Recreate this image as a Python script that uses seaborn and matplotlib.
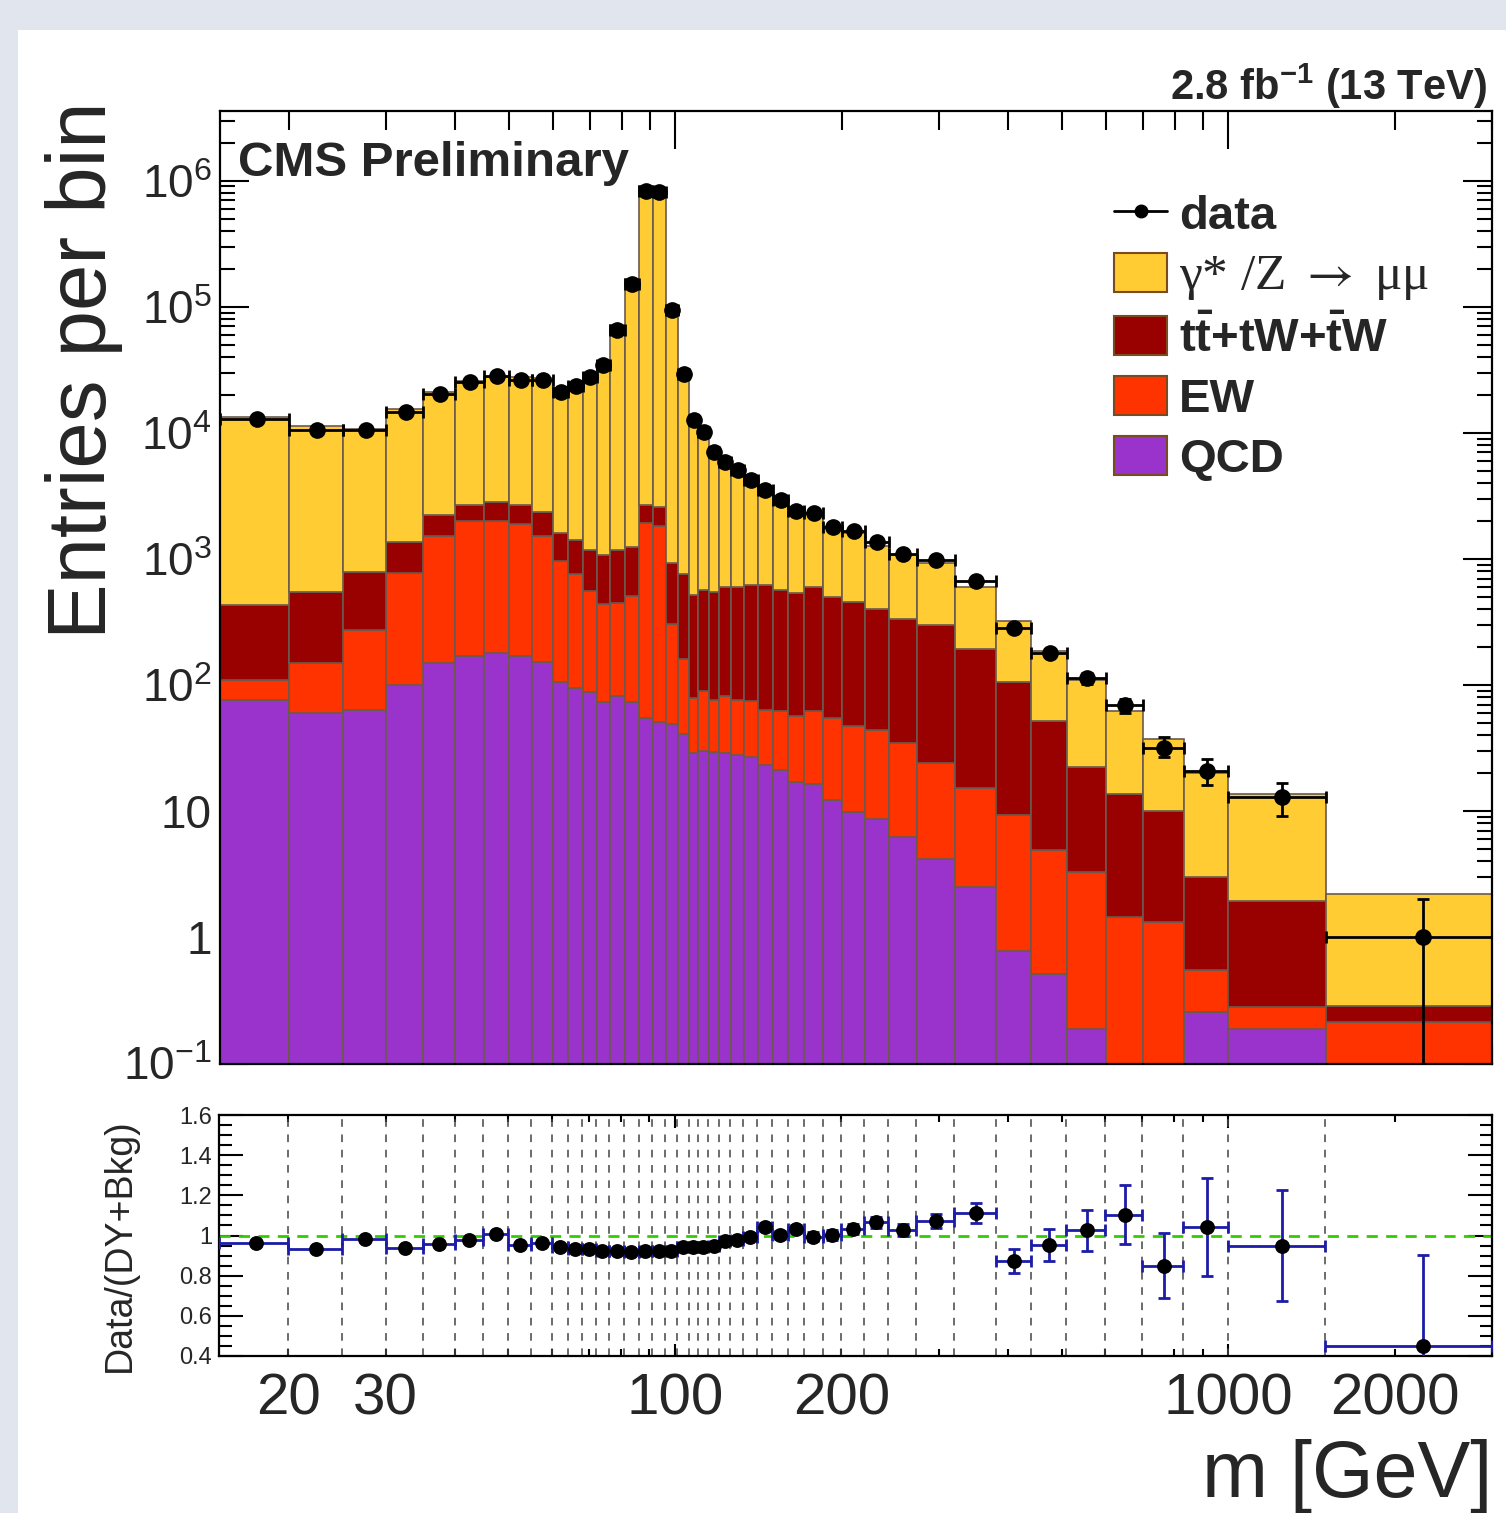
import numpy as np
import pandas as pd
import matplotlib
matplotlib.use("Agg")
import matplotlib.pyplot as plt
import seaborn as sns
from matplotlib.patches import Patch, Rectangle
from matplotlib.lines import Line2D
from matplotlib.ticker import FixedLocator, FixedFormatter, NullFormatter, MultipleLocator

# ---------------- data ----------------
edges = [15, 20, 25, 30, 35, 40, 45, 50, 55, 60, 64, 68, 72, 76, 81, 86, 91, 96, 101, 106,
         110, 115, 120, 126, 133, 141, 150, 160, 171, 185, 200, 220, 243, 273, 320, 380,
         440, 510, 600, 700, 830, 1000, 1500, 3000]

dy = [13000, 10700, 9910, 14200, 18800, 23100, 25000, 25000, 24700, 20700, 23600, 28500,
      36000, 70000, 165000, 902000, 874000, 102000, 30400, 12800, 10200, 6880, 5420, 4560,
      3650, 2780, 2380, 1790, 1730, 1290, 1150, 874, 742, 622, 410, 218, 136, 87.4, 49.0,
      27.5, 17.2, 11.7, 1.94]
ttbar = [323, 398, 512, 589, 712, 707, 838, 785, 837, 651, 651, 630, 640, 742, 727, 771, 763,
         630, 594, 443, 480, 472, 515, 522, 551, 562, 508, 482, 536, 443, 409, 355, 297, 276,
         177, 97.4, 46.7, 19.3, 12.2, 8.73, 2.48, 1.68, 0.07]
ew = [32.7, 89.5, 208, 672, 1366, 1815, 1805, 1737, 1364, 866, 671, 470, 367, 365, 437, 1867,
      1768, 259, 122, 49.9, 60.3, 46.6, 53.7, 48.1, 48.1, 40.1, 41.1, 40.4, 45.8, 42.9, 37.6,
      35.1, 28.8, 20.0, 12.8, 8.63, 4.44, 3.11, 1.44, 1.33, 0.295, 0.093, 0.215]
qcd = [76.2, 60.2, 63.5, 99.8, 150, 171, 181, 171, 152, 105, 95.2, 88.5, 73.7, 82.7, 73.7,
       55.2, 50.8, 49.2, 40.7, 29.0, 30.0, 29.6, 29.0, 28.1, 27.1, 23.4, 21.1, 17.0, 16.4,
       12.3, 9.86, 8.68, 6.27, 4.18, 2.52, 0.775, 0.509, 0.188, 0, 0, 0.257, 0.188, 0]

data = [12960, 10470, 10500, 14610, 20180, 25270, 28040, 26410, 26060, 21050, 23360, 27690,
        34260, 65720, 152200, 835000, 809300, 94680, 29450, 12560, 10150, 7045, 5870, 5046,
        4258, 3548, 2956, 2401, 2315, 1793, 1658, 1356, 1104, 989, 669, 284, 179, 113, 69,
        32, 21, 13, 1]
data_err_lo = [114, 102, 102, 121, 142, 159, 167, 163, 161, 145, 153, 166, 185, 256, 390, 914,
               900, 308, 172, 112, 101, 84, 77, 71, 65, 60, 54, 49, 48, 42, 41, 37, 33, 31, 26,
               17, 13, 11, 8.3, 5.3, 4.8, 3.8, 0.999]
data_err_hi = [114, 102, 102, 121, 142, 159, 167, 163, 161, 145, 153, 166, 185, 256, 390, 914,
               900, 308, 172, 112, 101, 84, 77, 71, 65, 60, 54, 49, 48, 42, 41, 37, 33, 31, 26,
               17, 13, 11, 8.3, 6.8, 4.9, 3.8, 1.0]

ratio = [0.962, 0.932, 0.982, 0.940, 0.958, 0.978, 1.008, 0.953, 0.962, 0.945, 0.932, 0.932,
         0.923, 0.923, 0.917, 0.923, 0.923, 0.923, 0.945, 0.945, 0.945, 0.948, 0.975, 0.978,
         0.995, 1.042, 1.003, 1.032, 0.995, 1.003, 1.032, 1.065, 1.028, 1.073, 1.112, 0.875,
         0.953, 1.025, 1.103, 0.850, 1.042, 0.950, 0.449]
ratio_err = [0.008, 0.009, 0.009, 0.008, 0.007, 0.006, 0.006, 0.006, 0.006, 0.007, 0.006, 0.006,
             0.005, 0.004, 0.002, 0.001, 0.001, 0.003, 0.005, 0.008, 0.009, 0.011, 0.013, 0.014,
             0.015, 0.018, 0.018, 0.021, 0.021, 0.024, 0.025, 0.029, 0.031, 0.034, 0.052, 0.060,
             0.079, 0.104, 0.146, 0.163, 0.244, 0.277, 0.455]

proc_names = ["DY", "tt", "EW", "QCD"]
proc_labels = ["\u03b3* /Z $\\rightarrow$ \u03bc\u03bc",
               r"$\mathbf{t\bar{t}}$+tW+$\mathbf{\bar{t}}$W", "EW", "QCD"]
colors = {"DY": "#ffcc33", "tt": "#990000", "EW": "#ff3300", "QCD": "#9933cc"}

# ---------------- style ----------------
sns.set_theme(style="ticks")
plt.rcParams["font.family"] = ["Liberation Sans", "DejaVu Sans"]
plt.rcParams["mathtext.fontset"] = "custom"
plt.rcParams["mathtext.rm"] = "Liberation Sans"
plt.rcParams["mathtext.it"] = "Liberation Sans:italic"
plt.rcParams["mathtext.bf"] = "Liberation Sans:bold"
plt.rcParams["axes.linewidth"] = 1.6
plt.rcParams["axes.edgecolor"] = "black"

W, H = 1506, 1513
fig = plt.figure(figsize=(W / 100, H / 100), dpi=100, facecolor="#e0e5ee")
fig.patches.append(Rectangle((18 / W, 0), 1 - 18 / W, 1 - 30 / H, transform=fig.transFigure,
                             facecolor="white", edgecolor="none", zorder=-5))

ax = fig.add_axes([220 / W, 1 - 1063.5 / H, (1492 - 220) / W, (1063.5 - 110.7) / H])
rax = fig.add_axes([219 / W, 1 - 1356 / H, (1492 - 219) / W, (1356 - 1115) / H])

lo = np.array(edges[:-1], dtype=float)
hi = np.array(edges[1:], dtype=float)
gcent = np.sqrt(lo * hi)
acent = (lo + hi) / 2

df = pd.DataFrame({
    "m": np.tile(gcent, len(proc_names)),
    "w": np.concatenate([dy, ttbar, ew, qcd]),
    "proc": np.repeat(proc_names, len(gcent)),
})

ax.set_xscale("log")
ax.set_yscale("log", nonpositive="clip")
log_bins = [float(v) for v in np.log10(edges)]
sns.histplot(data=df, x="m", weights="w", hue="proc", hue_order=proc_names,
             bins=log_bins, multiple="stack",
             element="bars", palette=colors, edgecolor="#6b5a4e", linewidth=1.2,
             alpha=1, legend=False, ax=ax)
ax.set_yscale("log", nonpositive="clip")
# make sure the bottom layer (baseline 0) is drawn on the log axis
for bar in ax.patches:
    y0 = bar.get_y()
    if y0 <= 0:
        top = y0 + bar.get_height()
        bar.set_y(1e-3)
        bar.set_height(max(top - 1e-3, 0))

ax.errorbar(acent, data, xerr=[acent - lo, hi - acent], yerr=[data_err_lo, data_err_hi],
            fmt="o", color="black", ms=11, elinewidth=2, capsize=4, capthick=2, zorder=10)

ax.set_xlim(15, 3000)
ax.set_ylim(0.1, 3.59e6)
ax.set_xlabel("")
ax.set_ylabel("")

yt = [0.1, 1, 10, 100, 1e3, 1e4, 1e5, 1e6]
ytl = [r"$10^{-1}$", "1", "10", r"$10^{2}$", r"$10^{3}$", r"$10^{4}$", r"$10^{5}$", r"$10^{6}$"]
ax.yaxis.set_major_locator(FixedLocator(yt))
ax.yaxis.set_major_formatter(FixedFormatter(ytl))
yminor = [m * 10.0 ** e for e in range(-1, 7) for m in range(2, 10)]
ax.yaxis.set_minor_locator(FixedLocator(yminor))
ax.yaxis.set_minor_formatter(NullFormatter())

xmajor = [100, 1000]
xminor = [20, 30, 40, 50, 60, 70, 80, 90, 200, 300, 400, 500, 600, 700, 800, 900, 2000, 3000]
ax.xaxis.set_major_locator(FixedLocator(xmajor))
ax.xaxis.set_minor_locator(FixedLocator(xminor))
ax.xaxis.set_major_formatter(NullFormatter())
ax.xaxis.set_minor_formatter(NullFormatter())
ax.tick_params(which="both", direction="in", top=True, right=True, labelbottom=False,
               width=1.5, color="black")
ax.tick_params(axis="y", which="major", length=21, labelsize=33, pad=6)
ax.tick_params(axis="y", which="minor", length=11)
ax.tick_params(axis="x", which="major", length=27)
ax.tick_params(axis="x", which="minor", length=14)
for s in ax.spines.values():
    s.set_zorder(20)

# legend
handles = [Line2D([], [], color="black", marker="o", ms=9, lw=2)]
for p in proc_names:
    handles.append(Patch(facecolor=colors[p], edgecolor="#7a4a20", linewidth=1.5))
leg = ax.legend(handles, ["data"] + proc_labels, loc="upper left", bbox_to_anchor=(0.703, 0.914),
                frameon=False, fontsize=34, handlelength=1.12, handleheight=0.9,
                handletextpad=0.25, labelspacing=0.30, borderpad=0, borderaxespad=0)
for i, t in enumerate(leg.get_texts()):
    if i == 1:
        t.set_fontfamily(["Liberation Serif", "DejaVu Serif"])
        t.set_math_fontfamily("stix")
        t.set_fontweight("normal")
        t.set_fontsize(37)
    else:
        t.set_fontweight("bold")

# ---------------- ratio ----------------
for e in edges[1:-1]:
    rax.axvline(e, color="#444444", lw=1.1, ls=(0, (5, 5)), zorder=1)
rax.axhline(1.0, color="#33cc00", lw=2, ls=(0, (4, 3)), zorder=2)
rax.errorbar(acent, ratio, xerr=[acent - lo, hi - acent], yerr=ratio_err, fmt="none",
             ecolor="#1c1ca8", elinewidth=2, capsize=4, capthick=2, zorder=3)
sns.scatterplot(x=acent, y=ratio, ax=rax, color="black", s=115, edgecolor="black",
                linewidth=0, zorder=4, legend=False)
rax.set_xscale("log")
rax.set_xlim(15, 3000)
rax.set_ylim(0.4, 1.6)
rax.set_xlabel("")
rax.set_ylabel("")
rax.xaxis.set_major_locator(FixedLocator(xmajor))
rax.xaxis.set_major_formatter(FixedFormatter(["100", "1000"]))
rax.xaxis.set_minor_locator(FixedLocator(xminor))
minor_labels = ["20", "30", "", "", "", "", "", "", "200", "", "", "", "", "", "", "", "2000", ""]
rax.xaxis.set_minor_formatter(FixedFormatter(minor_labels))
rax.yaxis.set_major_locator(FixedLocator([0.4, 0.6, 0.8, 1.0, 1.2, 1.4, 1.6]))
rax.yaxis.set_major_formatter(FixedFormatter(["0.4", "0.6", "0.8", "1", "1.2", "1.4", "1.6"]))
rax.yaxis.set_minor_locator(MultipleLocator(0.05))
rax.tick_params(which="both", direction="in", top=True, right=True, width=1.5, color="black")
rax.tick_params(axis="x", which="both", labelsize=42, pad=12)
rax.tick_params(axis="x", which="major", length=9)
rax.tick_params(axis="x", which="minor", length=5)
rax.tick_params(axis="y", which="major", length=17, labelsize=17, pad=5)
rax.tick_params(axis="y", which="minor", length=9)

# ---------------- texts ----------------
fig.text(84 / W, 1 - 370 / H, "Entries per bin", rotation=90, ha="center", va="center", fontsize=60)
fig.text(120 / W, 1 - 1245 / H, "Data/(DY+Bkg)", rotation=90, ha="center", va="center", fontsize=27)
fig.text(1492 / W, 1 - 1497 / H, "m [GeV]", ha="right", va="baseline", fontsize=57)
fig.text(238 / W, 1 - 176 / H, "CMS Preliminary", ha="left", va="baseline", fontsize=35.5,
         fontweight="bold")
fig.text(1487 / W, 1 - 100 / H, r"2.8 fb$^{\mathbf{-1}}$ (13 TeV)", ha="right", va="baseline",
         fontsize=30, fontweight="bold")

fig.savefig("out.png", dpi=100, facecolor=fig.get_facecolor())
